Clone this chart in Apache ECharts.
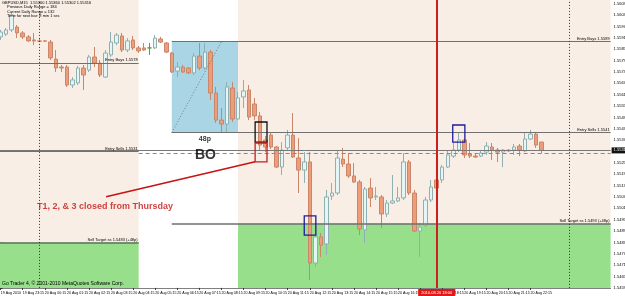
<!DOCTYPE html>
<html><head><meta charset="utf-8">
<script src="https://cdn.jsdelivr.net/npm/echarts@6/dist/echarts.min.js"></script>
<style>html,body{margin:0;padding:0;background:#fff}#c{width:625px;height:296px}</style>
</head><body><div id="c"></div>
<script>
// ---- GBPUSD M15 bars (index 0 = 19 Aug 2010 22:15) ----
const opens  = [1.55915,1.55930,1.55952,1.55967,1.55936,1.55915,1.55899,1.55894,1.55894,1.55888,
1.55798,1.55756,1.55756,1.55661,1.55672,1.55751,1.55740,1.55809,1.55777,1.55703,
1.55820,1.55883,1.55920,1.55846,1.55899,1.55857,1.55857,1.55857,1.55857,1.55904,
1.55883,1.55830,1.55735,1.55756,1.55751,1.55725,1.55814,1.55751,1.55835,1.55619,
1.55476,1.55455,1.55645,1.55482,1.55598,1.55635,1.55561,1.55498,1.55371,1.55397,
1.55334,1.55228,1.55329,1.55397,1.55276,1.55212,1.55255,1.54721,1.54859,1.54822,
1.55075,1.55091,1.55270,1.55244,1.55181,1.55149,1.54896,1.55117,1.55070,1.55070,
1.54980,1.55038,1.55049,1.55065,1.55255,1.55091,1.54890,1.54922,1.55054,1.55160,
1.55160,1.55228,1.55286,1.55318,1.55371,1.55297,1.55286,1.55286,1.55307,1.55334,
1.55318,1.55307,1.55313,1.55318,1.55339,1.55313,1.55376,1.55402,1.55360];
const closes = [1.55941,1.55952,1.56031,1.55936,1.55915,1.55894,1.55894,1.55892,1.55893,1.55804,
1.55751,1.55751,1.55661,1.55688,1.55751,1.55714,1.55809,1.55777,1.55714,1.55830,
1.55888,1.55925,1.55846,1.55894,1.55857,1.55841,1.55846,1.55857,1.55909,1.55888,
1.55835,1.55730,1.55756,1.55730,1.55725,1.55814,1.55751,1.55835,1.55619,1.55476,
1.55455,1.55651,1.55482,1.55593,1.55630,1.55492,1.55498,1.55344,1.55334,1.55334,
1.55228,1.55318,1.55397,1.55281,1.55212,1.55255,1.54721,1.54859,1.54816,1.55070,
1.55091,1.55276,1.55244,1.55181,1.55149,1.54901,1.55112,1.55065,1.55075,1.54980,
1.55038,1.55049,1.55065,1.55255,1.55091,1.54890,1.54911,1.55054,1.55123,1.55117,
1.55228,1.55292,1.55318,1.55371,1.55292,1.55286,1.55281,1.55302,1.55339,1.55318,
1.55307,1.55318,1.55318,1.55334,1.55318,1.55376,1.55402,1.55344,1.55316];
const highs  = [1.55952,1.55962,1.56041,1.55978,1.55946,1.55925,1.55936,1.55904,1.55899,1.55899,
1.55846,1.55767,1.55767,1.55703,1.55762,1.55767,1.55820,1.55862,1.55793,1.55846,
1.55941,1.55936,1.55936,1.55909,1.55920,1.55867,1.55883,1.55883,1.55925,1.55915,
1.55888,1.55835,1.55783,1.55767,1.55756,1.55830,1.55883,1.55883,1.55846,1.55651,
1.55540,1.55677,1.55677,1.55624,1.55688,1.55661,1.55593,1.55519,1.55392,1.55408,
1.55339,1.55360,1.55424,1.55513,1.55381,1.55307,1.55307,1.54869,1.54880,1.55107,
1.55144,1.55318,1.55329,1.55302,1.55249,1.55160,1.55123,1.55170,1.55123,1.55080,
1.55054,1.55186,1.55123,1.55302,1.55265,1.55107,1.54933,1.55070,1.55160,1.55170,
1.55239,1.55318,1.55355,1.55408,1.55376,1.55355,1.55302,1.55318,1.55360,1.55355,
1.55329,1.55323,1.55323,1.55350,1.55350,1.55413,1.55424,1.55408,1.55360];
const lows   = [1.55899,1.55920,1.55941,1.55909,1.55904,1.55888,1.55872,1.55888,1.55888,1.55793,
1.55730,1.55730,1.55651,1.55645,1.55661,1.55635,1.55730,1.55756,1.55703,1.55698,
1.55809,1.55872,1.55835,1.55835,1.55846,1.55830,1.55841,1.55820,1.55851,1.55883,
1.55830,1.55725,1.55703,1.55725,1.55719,1.55714,1.55740,1.55740,1.55582,1.55461,
1.55408,1.55408,1.55466,1.55476,1.55540,1.55476,1.55476,1.55318,1.55307,1.55323,
1.55223,1.55186,1.55318,1.55276,1.55091,1.55144,1.54632,1.54700,1.54753,1.54764,
1.55054,1.55080,1.55228,1.55170,1.55144,1.54869,1.54827,1.55017,1.55054,1.54906,
1.54964,1.55033,1.55043,1.55054,1.55080,1.54885,1.54753,1.54911,1.55043,1.55107,
1.55144,1.55223,1.55276,1.55307,1.55276,1.55276,1.55276,1.55281,1.55292,1.55265,
1.55255,1.55228,1.55307,1.55292,1.55286,1.55307,1.55371,1.55329,1.55302];

// ---- axis ----
const priceTicks = [1.56090,1.56030,1.55970,1.55910,1.55850,1.55790,1.55730,1.55670,1.55610,1.55550,
1.55490,1.55430,1.55370,1.55310,1.55250,1.55190,1.55130,1.55070,1.55010,1.54950,
1.54890,1.54830,1.54770,1.54710,1.54650,1.54590];
const yMax = 1.5611, yMin = 1.5459;
const slotCount = 111;          // bars + right chart shift
const firstBarTime = '2010-08-19T22:15:00Z';
const labelEvery = 4;

// ---- objects (bar-index / price) ----
const bidPrice = 1.55316;
const leftLevels  = {buy:1.55777, sell:1.5531, target:1.5483};
const leftLabels  = ['Entry Buys 1.5578','Entry Sells 1.5531','Sell Target ss 1.5483 (+48p)'];
const rightLevels = {buy:1.5589, sell:1.5541, target:1.5493};
const rightLabels = ['Entry Buys 1.5589','Entry Sells 1.5541','Sell Target ss 1.5493 (+48p)'];
const leftZoneEnd = 25, boxStart = 31, boxEnd = 43;
const dashedLevel = 1.55302;
const daySeparators = [7, 103];
const markerBar = 79, markerLabel = '2010.08.20 18:00';
const boxDiagonal = [[31, 1.5541],[40, 1.5589]];
const trendLine = [[19.1, 1.55071],[46.1, 1.55256]];
const rectBlack = [[46.1, 1.55466],[48.25, 1.5536]];
const rectRed   = [[46.1, 1.55355],[48.25, 1.55255]];
const rectBlue  = [[[55.0, 1.5497],[57.1, 1.54869]], [[81.9, 1.5545],[84.1, 1.5536]]];
const notes = ['T1, 2, & 3 closed from Thursday', '48p', 'BO'];
const notePos = [[18.9, 1.5502], [37, 1.55376], [37.1, 1.55289]];
const infoLines = ['GBPUSD,M15  1.55360 1.55360 1.55302 1.55316','Previous Daily Range = 184','Current Daily Range = 132','Time for next bar: 8 min 1 sec'];
const copyright = 'Go Trader 4, \u00a9 2001-2010 MetaQuotes Software Corp.';

// ---- build ----
const MON = ['Jan','Feb','Mar','Apr','May','Jun','Jul','Aug','Sep','Oct','Nov','Dec'];
const t0 = Date.parse(firstBarTime);
const cats = [];
for (let i = 0; i < slotCount; i++) {
  const d = new Date(t0 + i * 15 * 60000);
  const p = n => String(n).padStart(2, '0');
  cats.push(i === 0 ? `${d.getUTCDate()} ${MON[d.getUTCMonth()]} ${d.getUTCFullYear()}`
    : `${d.getUTCDate()} ${MON[d.getUTCMonth()]} ${p(d.getUTCHours())}:${p(d.getUTCMinutes())}`);
}
const lastBar = opens.length - 1;
const showTick = i => i % labelEvery === 0 && i <= lastBar;
const FONT = 'Liberation Sans, Arial, sans-serif';
const xL = -0.5, xR = slotCount - 0.5;

const beige = '#f9eee5', green = '#97df8b', blue = '#a9d5e5';
const lvlStyle = {color:'#707070', width:1, type:'solid'};
const lblStyle = (txt) => ({show:true, position:'insideEndTop', formatter:txt, fontSize:4, color:'#000', distance:1, fontFamily:FONT});
const seg = (a, b, extra) => [Object.assign({coord:a}, extra || {}), {coord:b}];
const noteStyles = [{fontSize:9, color:'#c41414'}, {fontSize:7, color:'#000'}, {fontSize:14, color:'#000'}];

const option = {
  animation:false,
  grid:{left:-2.1, right:14.4, top:0, bottom:8.1, outerBoundsMode:'none', containLabel:false},
  xAxis:[
    {type:'category', data:cats, boundaryGap:true,
     axisLine:{show:true, lineStyle:{color:'#808080', width:1}},
     axisTick:{show:true, alignWithLabel:true, interval:(i)=>showTick(i), length:2, lineStyle:{color:'#333'}},
     axisLabel:{interval:(i)=>showTick(i), showMinLabel:true, fontSize:3.6, color:'#000', align:'left', margin:3, fontFamily:FONT, hideOverlap:false},
     splitLine:{show:false}},
    {type:'value', min:xL, max:xR, show:false}
  ],
  yAxis:{type:'value', position:'right', min:yMin, max:yMax,
    axisLine:{show:true, lineStyle:{color:'#9a9a9a', width:1.5}},
    axisTick:{show:true, length:2, customValues:priceTicks, lineStyle:{color:'#333'}},
    axisLabel:{customValues:priceTicks, formatter:v=>v.toFixed(5), fontSize:4, color:'#000', margin:3, fontFamily:FONT, hideOverlap:false},
    splitLine:{show:false}},
  graphic: infoLines.map((t, k) => ({type:'text', left:k === 0 ? 2 : 7, top:1 + k * 4.3,
      style:{text:t, fontSize:4, fill:'#000', fontFamily:FONT}, z:100}))
    .concat([{type:'text', left:2, top:281.5, style:{text:copyright, fontSize:5, fill:'#000', fontFamily:FONT}, z:100}]),
  series:[
    {type:'scatter', xAxisIndex:1, data:[[0, yMin]], symbolSize:0, silent:true, z:1,
     markArea:{silent:true, z:1, data:[
       [{xAxis:xL, yAxis:yMax, itemStyle:{color:beige}}, {xAxis:leftZoneEnd, yAxis:leftLevels.target}],
       [{xAxis:xL, yAxis:leftLevels.target, itemStyle:{color:green}}, {xAxis:leftZoneEnd, yAxis:yMin}],
       [{xAxis:boxEnd, yAxis:yMax, itemStyle:{color:beige}}, {xAxis:xR, yAxis:rightLevels.target}],
       [{xAxis:boxEnd, yAxis:rightLevels.target, itemStyle:{color:green}}, {xAxis:xR, yAxis:yMin}],
       [{xAxis:boxStart, yAxis:rightLevels.buy, itemStyle:{color:blue}}, {xAxis:boxEnd, yAxis:rightLevels.sell}]
     ]}},
    {type:'candlestick', xAxisIndex:0, z:3, barWidth:4,
     data: opens.map((o, i) => [o, closes[i], lows[i], highs[i]]),
     itemStyle:{color:'#e3f5f5', color0:'#ee9d7b', borderColor:'#8fb0b0', borderColor0:'#c98668', borderColorDoji:'#44aa33', borderWidth:1}},
    {type:'scatter', xAxisIndex:1, data:[[0, yMin]], symbolSize:0, silent:true, z:4,
     markLine:{silent:true, symbol:['none','none'], label:{show:false}, lineStyle:lvlStyle, data:[
       seg([xL, leftLevels.buy], [leftZoneEnd, leftLevels.buy], {label:lblStyle(leftLabels[0])}),
       seg([xL, leftLevels.sell], [leftZoneEnd, leftLevels.sell], {label:lblStyle(leftLabels[1])}),
       seg([xL, leftLevels.target], [leftZoneEnd, leftLevels.target], {label:lblStyle(leftLabels[2]), lineStyle:{color:'#5f6f5f', width:1.5}}),
       seg([boxStart, rightLevels.buy], [xR, rightLevels.buy], {label:lblStyle(rightLabels[0])}),
       seg([boxStart, rightLevels.sell], [xR, rightLevels.sell], {label:lblStyle(rightLabels[1])}),
       seg([boxStart, rightLevels.target], [xR, rightLevels.target], {label:lblStyle(rightLabels[2]), lineStyle:{color:'#6f6f6f', width:1.5}}),
       seg([leftZoneEnd, dashedLevel], [xR, dashedLevel], {lineStyle:{color:'#888', width:1, type:[4,3]}}),
       seg([xL, bidPrice], [xR, bidPrice], {lineStyle:{color:'#777', width:1},
          label:{show:true, position:'end', formatter:bidPrice.toFixed(5), fontSize:4, color:'#fff', backgroundColor:'#111', padding:[1,2], distance:1, fontFamily:FONT}}),
       seg(boxDiagonal[0], boxDiagonal[1], {lineStyle:{color:'#777', width:1, type:[1,2]}}),
       seg(trendLine[0], trendLine[1], {lineStyle:{color:'#c41414', width:1.6}}),
       {xAxis:daySeparators[0], lineStyle:{color:'#333', width:1, type:[1,2]}},
       {xAxis:daySeparators[1], lineStyle:{color:'#333', width:1, type:[1,2]}},
       {xAxis:markerBar, lineStyle:{color:'#cc2020', width:2, type:'solid'},
        label:{show:true, position:'start', formatter:markerLabel, fontSize:4, color:'#fff', backgroundColor:'#e01818', padding:[1.5,3], distance:1, fontFamily:FONT}}
     ]}},
    {type:'scatter', xAxisIndex:1, data:[[0, yMin]], symbolSize:0, silent:true, z:6,
     markArea:{silent:true, z:6, data:[
       [{coord:rectBlack[0], itemStyle:{color:'rgba(0,0,0,0)', borderColor:'#111', borderWidth:1.3}}, {coord:rectBlack[1]}],
       [{coord:rectRed[0], itemStyle:{color:'rgba(0,0,0,0)', borderColor:'#c42020', borderWidth:1.3}}, {coord:rectRed[1]}],
       [{coord:rectBlue[0][0], itemStyle:{color:'rgba(0,0,0,0)', borderColor:'#1c1c9c', borderWidth:1.3}}, {coord:rectBlue[0][1]}],
       [{coord:rectBlue[1][0], itemStyle:{color:'rgba(0,0,0,0)', borderColor:'#1c1c9c', borderWidth:1.3}}, {coord:rectBlue[1][1]}]
     ]}},
    {type:'scatter', xAxisIndex:1, z:7, silent:true, symbolSize:1, itemStyle:{color:'rgba(0,0,0,0)'},
     data: notes.map((t, k) => ({value:notePos[k], name:t,
       label:Object.assign({show:true, position:'inside', formatter:t, fontWeight:'bold', fontFamily:FONT}, noteStyles[k])}))}
  ]
};

const chart = echarts.init(document.getElementById('c'), null, {renderer:'canvas'});
chart.setOption(option);
</script></body></html>
